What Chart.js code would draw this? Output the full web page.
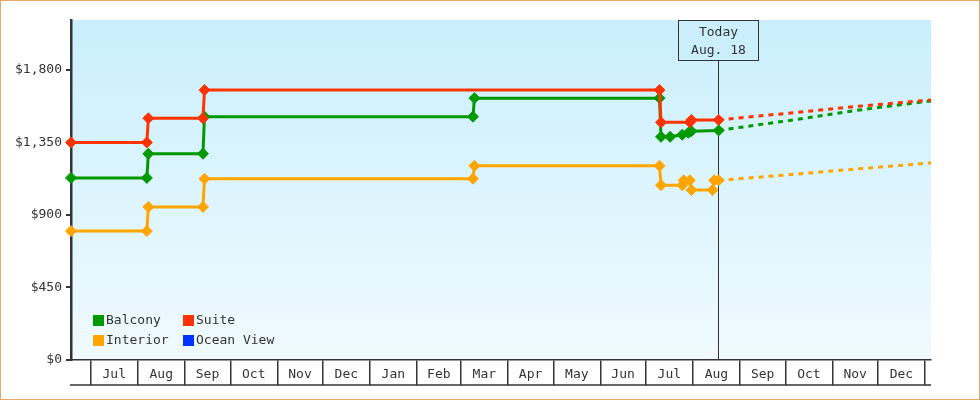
<!DOCTYPE html>
<html>
<head>
<meta charset="utf-8">
<script src="https://cdn.jsdelivr.net/npm/chart.js@4.4.0/dist/chart.umd.min.js"></script>
<style>
  html, body { margin: 0; padding: 0; background: #fff; }
  #wrap { width: 978px; height: 398px; border: 1px solid #eaa964; position: relative; }
</style>
</head>
<body>
<div id="wrap"><canvas id="grafico"></canvas></div>
<script>
// Axis range and "today" marker
const axisStart = '2023-06-18';
const axisEnd = '2025-01-05';
const today = '2024-08-18';
const todayLabel = ['Today', 'Aug. 18'];

// Month boxes on the x axis
const monthStarts = ['2023-07-01', '2023-08-01', '2023-09-01', '2023-10-01', '2023-11-01', '2023-12-01',
    '2024-01-01', '2024-02-01', '2024-03-01', '2024-04-01', '2024-05-01', '2024-06-01',
    '2024-07-01', '2024-08-01', '2024-09-01', '2024-10-01', '2024-11-01', '2024-12-01', '2025-01-01'];
const monthNames = ['Jul', 'Aug', 'Sep', 'Oct', 'Nov', 'Dec', 'Jan', 'Feb', 'Mar', 'Apr', 'May', 'Jun',
    'Jul', 'Aug', 'Sep', 'Oct', 'Nov', 'Dec'];

// Y axis
const yTicks = [0, 450, 900, 1350, 1800];
const yMax = 2110;

// Price history [date, price]
const balcony = [['2023-06-18', 1130], ['2023-08-07', 1130], ['2023-08-08', 1280], ['2023-09-13', 1280],
    ['2023-09-14', 1510], ['2024-03-09', 1510], ['2024-03-10', 1625], ['2024-07-10', 1625],
    ['2024-07-11', 1385], ['2024-07-17', 1385], ['2024-07-25', 1398], ['2024-07-29', 1410],
    ['2024-07-31', 1420], ['2024-08-18', 1425]];
const suite = [['2023-06-18', 1350], ['2023-08-07', 1350], ['2023-08-08', 1500], ['2023-09-13', 1500],
    ['2023-09-14', 1675], ['2024-07-10', 1675], ['2024-07-11', 1475], ['2024-07-30', 1475],
    ['2024-07-31', 1490], ['2024-08-18', 1490]];
const interior = [['2023-06-18', 800], ['2023-08-07', 800], ['2023-08-08', 950], ['2023-09-13', 950],
    ['2023-09-14', 1125], ['2024-03-09', 1125], ['2024-03-10', 1205], ['2024-07-10', 1205],
    ['2024-07-11', 1085], ['2024-07-25', 1085], ['2024-07-26', 1115], ['2024-07-30', 1115],
    ['2024-07-31', 1055], ['2024-08-14', 1055], ['2024-08-15', 1115], ['2024-08-18', 1115]];
const oceanView = [];

// Projection (dashed part)
const projDates = ['2024-08-18', '2024-10-01', '2024-11-15', '2025-01-05'];
const balconyProj = [1425, 1483, 1547, 1608];
const suiteProj = [1490, 1530, 1572, 1614];
const interiorProj = [1115, 1148, 1184, 1223];
const oceanViewProj = [];

const FONT = "'DejaVu Sans Mono', monospace";
const INK = '#333';

// days since Jul 1 2023
function day(s) {
    return (Date.parse(s) - Date.parse('2023-07-01')) / 86400000;
}
const todayDay = day(today);

function buildSeries(history, proj) {
    const pts = history.map(p => ({ x: day(p[0]), y: p[1] }));
    proj.slice(1).forEach((v, i) => pts.push({ x: day(projDates[i + 1]), y: v }));
    return pts;
}

function makeDataset(label, color, history, proj, order) {
    return {
        label: label,
        data: buildSeries(history, proj),
        borderColor: color,
        backgroundColor: color,
        borderWidth: 3,
        tension: 0,
        pointStyle: 'rectRot',
        pointRadius: ctx => (ctx.parsed && ctx.parsed.x > todayDay) ? 0 : 5.5,
        pointBorderWidth: 1,
        segment: {
            borderDash: ctx => ctx.p0.parsed.x >= todayDay ? [5, 5] : undefined
        },
        clip: false,
        order: order
    };
}

// chart area background
const backgroundPlugin = {
    id: 'fondo',
    beforeDraw(chart) {
        const a = chart.chartArea;
        const c = chart.ctx;
        const g = c.createLinearGradient(0, a.top, 0, a.bottom);
        g.addColorStop(0, '#c9effc');
        g.addColorStop(1, '#f0faff');
        c.save();
        c.fillStyle = g;
        c.fillRect(a.left, a.top, a.right - a.left, a.bottom - a.top);
        c.restore();
    }
};

// "Today" line and box
const todayPlugin = {
    id: 'hoy',
    beforeDatasetsDraw(chart) {
        const a = chart.chartArea;
        const c = chart.ctx;
        const x = Math.round(chart.scales.x.getPixelForValue(todayDay)) - 0.5;
        c.save();
        c.strokeStyle = INK;
        c.lineWidth = 1;
        c.beginPath();
        c.moveTo(x, a.top + 40);
        c.lineTo(x, a.bottom);
        c.stroke();
        c.fillStyle = '#cbeffc';
        c.fillRect(x - 40, a.top + 0.5, 80, 40);
        c.strokeRect(x - 40, a.top + 0.5, 80, 40);
        c.fillStyle = INK;
        c.font = '13px ' + FONT;
        c.textAlign = 'center';
        c.textBaseline = 'middle';
        c.fillText(todayLabel[0], x, a.top + 13);
        c.fillText(todayLabel[1], x, a.top + 31);
        c.restore();
    }
};

// legend inside the plot (2 x 2) and bottom line of the month boxes
const legendPlugin = {
    id: 'leyenda',
    afterDraw(chart) {
        const a = chart.chartArea;
        const c = chart.ctx;
        c.save();
        c.strokeStyle = INK;
        c.lineWidth = 1.5;
        c.beginPath();
        c.moveTo(a.left - 1, a.bottom + 25);
        c.lineTo(a.right, a.bottom + 25);
        c.stroke();

        c.font = '13px ' + FONT;
        c.textBaseline = 'middle';
        c.textAlign = 'left';
        chart.data.datasets.forEach((ds, i) => {
            const col = i % 2, row = Math.floor(i / 2);
            const bx = a.left + 22 + col * 90;
            const by = a.bottom - 45 + row * 20;
            c.fillStyle = ds.borderColor;
            c.fillRect(bx, by, 11, 11);
            c.fillStyle = INK;
            c.fillText(ds.label, bx + 13, by + 6);
        });
        c.restore();
    }
};

Chart.defaults.font.family = FONT;
Chart.defaults.font.size = 13;
Chart.defaults.color = INK;

const ctx = document.getElementById('grafico').getContext('2d');
new Chart(ctx, {
    type: 'line',
    data: {
        datasets: [
            makeDataset('Balcony', '#009900', balcony, balconyProj, 2),
            makeDataset('Suite', '#ff3300', suite, suiteProj, 1),
            makeDataset('Interior', '#ffa500', interior, interiorProj, 3),
            makeDataset('Ocean View', '#0033ff', oceanView, oceanViewProj, 4)
        ]
    },
    options: {
        responsive: true,
        maintainAspectRatio: false,
        animation: false,
        events: [],
        layout: { padding: { top: 19, right: 48, left: 0, bottom: 0 } },
        plugins: {
            legend: { display: false },
            tooltip: { enabled: false }
        },
        scales: {
            x: {
                type: 'linear',
                min: day(axisStart),
                max: day(axisEnd),
                afterBuildTicks: scale => {
                    const ticks = [];
                    monthStarts.forEach((m, i) => {
                        ticks.push({ value: day(m), edge: true });
                        if (i < monthNames.length) {
                            ticks.push({ value: (day(m) + day(monthStarts[i + 1])) / 2, name: monthNames[i] });
                        }
                    });
                    scale.ticks = ticks;
                },
                ticks: {
                    autoSkip: false,
                    maxRotation: 0,
                    padding: -18,
                    callback: (v, i, ticks) => ticks[i].name || ''
                },
                grid: {
                    drawOnChartArea: false,
                    tickLength: 25,
                    lineWidth: 1.5,
                    color: c => (c.tick && c.tick.edge) ? INK : 'rgba(0,0,0,0)'
                },
                border: { color: INK, width: 1.5 },
                afterFit: s => { s.height = 39; }
            },
            y: {
                min: 0,
                max: yMax,
                afterBuildTicks: scale => { scale.ticks = yTicks.map(v => ({ value: v })); },
                ticks: {
                    padding: 4,
                    callback: v => '$' + v.toLocaleString('en-US')
                },
                grid: { drawOnChartArea: false, tickLength: 5, color: INK, lineWidth: 2 },
                border: { color: INK, width: 2.5 },
                afterFit: s => { s.width = 70; }
            }
        }
    },
    plugins: [backgroundPlugin, todayPlugin, legendPlugin]
});
</script>
</body>
</html>
